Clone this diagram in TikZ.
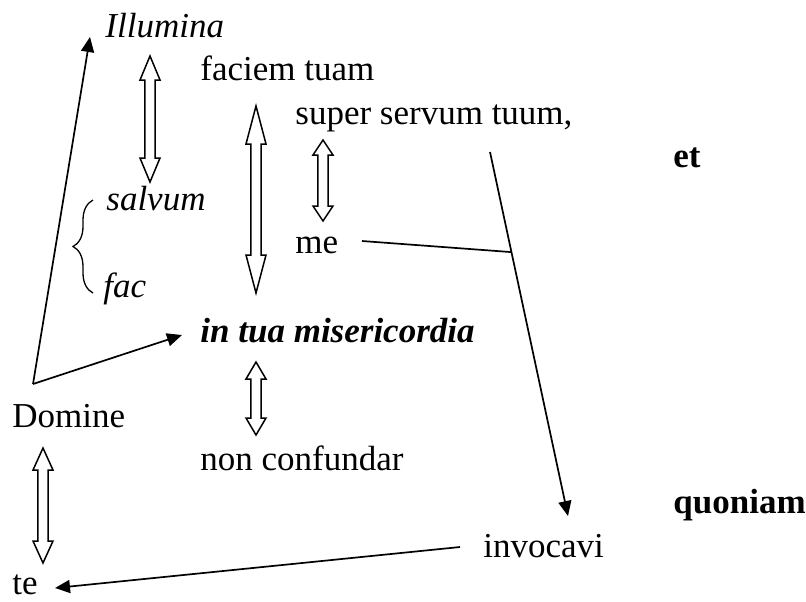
\documentclass[tikz,border=0pt]{standalone}
\usepackage{fontspec}
\setmainfont{Liberation Serif}
\usepackage{tikz}
\usetikzlibrary{arrows.meta,calc,decorations.pathreplacing}

\begin{document}
\begin{tikzpicture}[
    x=0.5pt, y=-0.5pt,
    word/.style={anchor=base west, inner sep=0pt, font=\fontsize{17.5}{21}\selectfont},
    arrow/.style={-{Triangle[length=7.5pt,width=6.5pt]}, line width=0.85pt},
    link/.style={line width=0.85pt},
    hollow/.style={line width=0.75pt, to path={let \p1=(\tikztostart), \p2=(\tikztotarget) in
        (\p1) -- (\x1+5pt,\y1-#1) -- (\x1+2.6pt,\y1-#1) -- (\x1+2.6pt,\y2+#1) -- (\x1+5pt,\y2+#1) -- (\p2)
        -- (\x1-5pt,\y2+#1) -- (\x1-2.6pt,\y2+#1) -- (\x1-2.6pt,\y1-#1) -- (\x1-5pt,\y1-#1) -- cycle}},
    hollow/.default=10pt,
    bracket/.style={decorate, decoration={brace, amplitude=10pt}, line width=0.65pt}
]
\useasboundingbox (0,0) rectangle (806,601);

% words
\node[word] (illum) at (105,37) {\itshape Illumina};
\node[word] (faciem) at (200,80) {faciem tuam};
\node[word] (super) at (295,124) {super servum tuum,};
\node[word] (et) at (673,167) {\bfseries et};
\node[word] (salv) at (106,210) {\itshape salvum};
\node[word] (me) at (295,253) {me};
\node[word] (fac) at (103,297) {\itshape fac};
\node[word] (misc) at (200,342) {\bfseries\itshape in tua misericordia};
\node[word] (dom) at (12,427) {Domine};
\node[word] (nonc) at (200,470) {non confundar};
\node[word] (quon) at (673,513) {\bfseries quoniam};
\node[word] (invoc) at (483,557) {invocavi};
\node[word] (te) at (12,594) {te};

\coordinate (pivot) at ([shift={(21,-43)}]dom.base west);

% hollow double arrows
\draw[hollow=12pt] ([shift={(45,19)}]illum.base west) to ([shift={(44,-28)}]salv.base west);
\draw[hollow=19pt] ([shift={(56,26)}]faciem.base west) to ([shift={(56,-49)}]misc.base west);
\draw[hollow=7.5pt] ([shift={(28,16)}]super.base west) to ([shift={(28,-32)}]me.base west);
\draw[hollow=8.5pt] ([shift={(56,20)}]misc.base west) to ([shift={(56,-35)}]nonc.base west);
\draw[hollow=11pt] ([shift={(31,21)}]dom.base west) to ([shift={(31,-31)}]te.base west);

% solid arrows
\draw[arrow] (pivot) -- ([shift={(-15,0)}]illum.base west);
\draw[arrow] (pivot) -- ([shift={(-18,-7)}]misc.base west);
\draw[arrow] ([shift={(195,28)}]super.base west) -- node[pos=0.275, coordinate] (cross) {} ([shift={(85,-41)}]invoc.base west);
\draw[link] ([shift={(67,-12)}]me.base west) -- (cross);
\draw[arrow] ([shift={(-23,-10)}]invoc.base west) -- ([shift={(43,-6)}]te.base west);

% brace
\draw[bracket] ([shift={(-10,-4)}]fac.base west) -- ([shift={(-13,-10)}]salv.base west);

\end{tikzpicture}
\end{document}
